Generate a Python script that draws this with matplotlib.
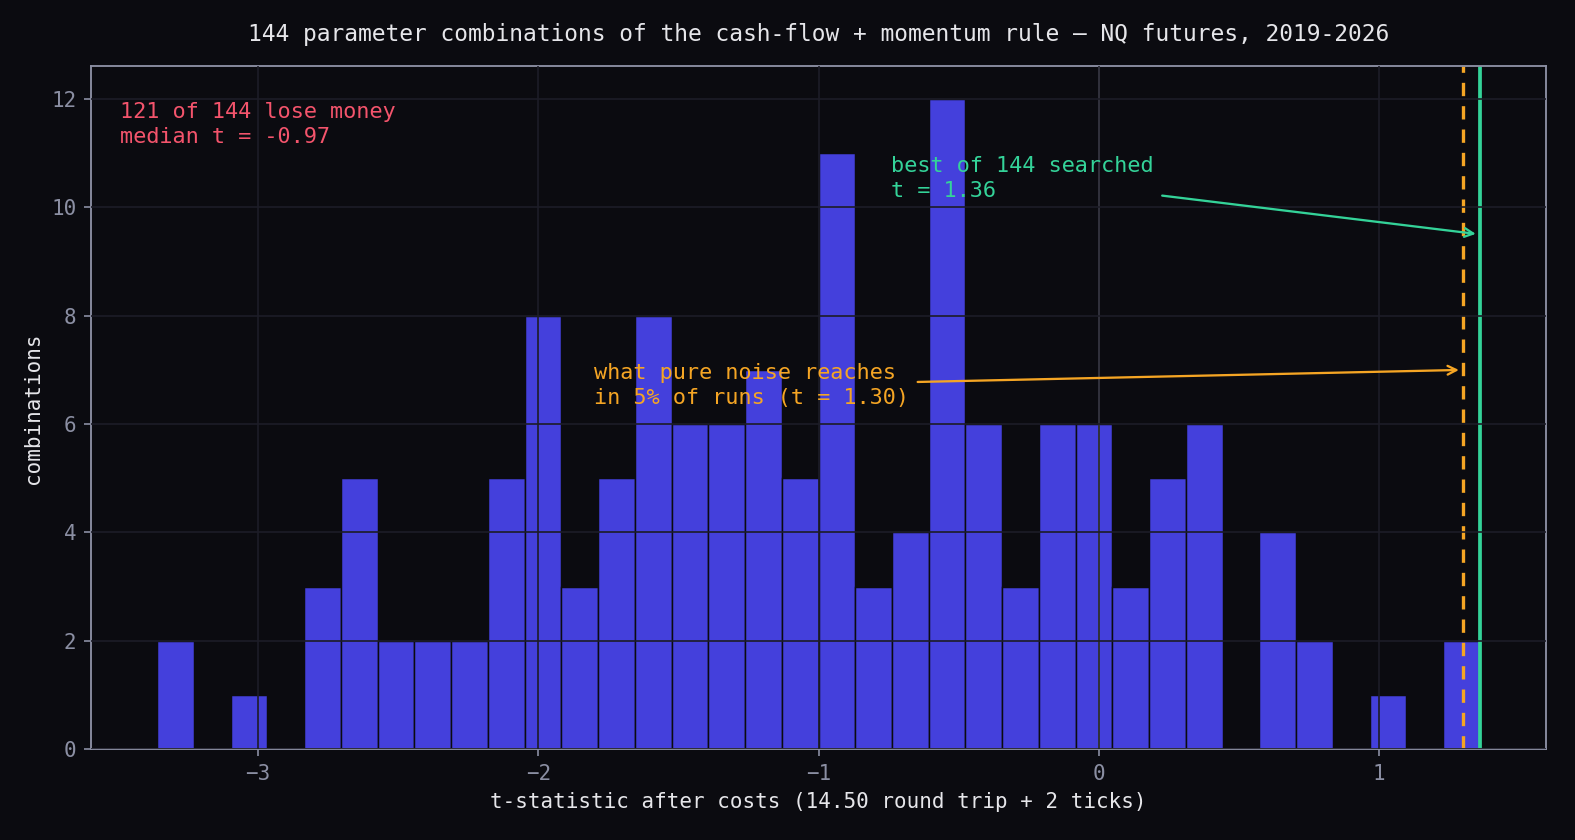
import numpy as np
import matplotlib.pyplot as plt

# histogram of t-stats over the 144 parameter combos (counts read per bin)
t_min, t_max = -3.36, 1.36
counts = [2, 0, 1, 0, 3, 5, 2, 2, 2, 5, 8, 3, 5, 8, 6, 6, 7, 5,
          11, 3, 4, 12, 6, 3, 6, 6, 3, 5, 6, 0, 4, 2, 0, 1, 0, 2]
noise_t95 = 1.30
best_t = 1.36
n_lose = 121
n_total = 144
median_t = -0.97

bg = '#0b0b10'
grid_col = '#1d1d27'
spine_col = '#8b8fa3'
text_col = '#e6e6ea'
bar_col = '#4440dc'
orange = '#f5a524'
green = '#34d399'
red = '#f4546c'

plt.rcParams['font.family'] = ['DejaVu Sans Mono']

edges = np.linspace(t_min, t_max, len(counts) + 1)
centers = (edges[:-1] + edges[1:]) / 2

fig = plt.figure(figsize=(10.5, 5.6), dpi=150, facecolor=bg)
ax = fig.add_axes([0.0578, 0.108, 0.9238, 0.813])
ax.set_facecolor(bg)

ax.hist(centers, bins=edges, weights=counts, color=bar_col,
        edgecolor=bg, linewidth=0.7)

ax.set_axisbelow(False)
ax.grid(True, color=grid_col, linewidth=0.8)

ax.axvline(0, color='#9a9cab', linewidth=0.9)
ax.axvline(noise_t95, color=orange, linestyle=(0, (4, 3)), linewidth=1.6)
ax.axvline(best_t, color=green, linewidth=1.8)

for s in ax.spines.values():
    s.set_color(spine_col)
    s.set_linewidth(0.9)
ax.tick_params(colors=spine_col, labelsize=10, labelcolor=spine_col)

ax.set_xlabel('t-statistic after costs (14.50 round trip + 2 ticks)',
              color=text_col, fontsize=10)
ax.set_ylabel('combinations', color=text_col, fontsize=10)
ax.set_title('144 parameter combinations of the cash-flow + momentum rule \u2014 NQ futures, 2019-2026',
             color=text_col, fontsize=11, pad=12)

ax.text(0.02, 0.948, f'{n_lose} of {n_total} lose money\nmedian t = {median_t:.2f}',
        transform=ax.transAxes, ha='left', va='top', color=red, fontsize=10.5,
        linespacing=1.35)

ax.annotate(f'best of {n_total} searched\nt = {best_t:.2f}',
            xy=(best_t, 9.5), xytext=(-0.74, 10.95),
            ha='left', va='top', color=green, fontsize=10.5, linespacing=1.35,
            arrowprops=dict(arrowstyle='->', color=green, lw=1.1))

ax.annotate(f'what pure noise reaches\nin 5% of runs (t = {noise_t95:.2f})',
            xy=(noise_t95, 7.0), xytext=(-1.80, 7.13),
            ha='left', va='top', color=orange, fontsize=10.5, linespacing=1.35,
            arrowprops=dict(arrowstyle='->', color=orange, lw=1.1))

fig.savefig('out.png', dpi=150, facecolor=bg)
